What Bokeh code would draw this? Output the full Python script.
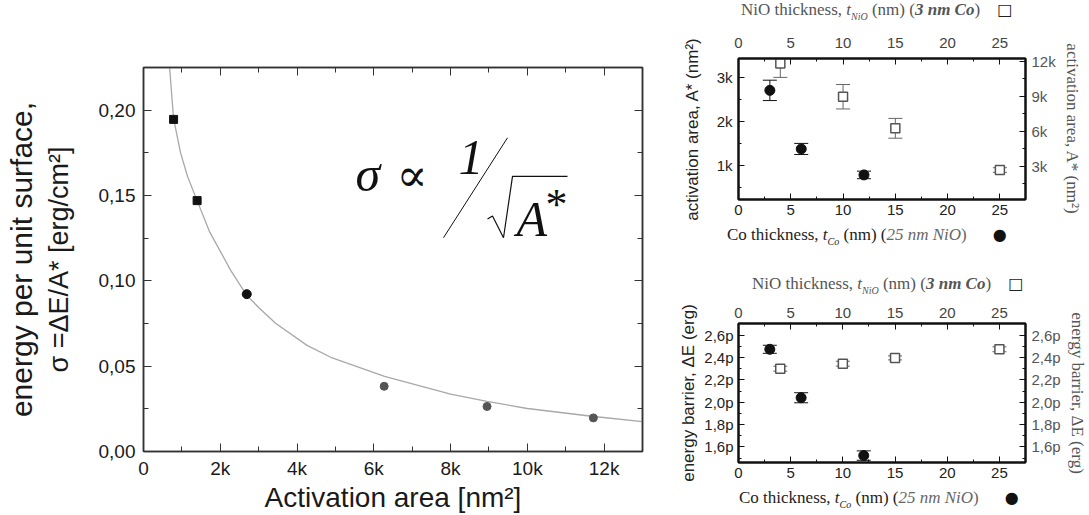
import math
from bokeh.plotting import figure
from bokeh.layouts import row, column
from bokeh.models import (Label, LinearAxis, Range1d, FixedTicker, Div, Spacer,
                          CustomJSTickFormatter, Whisker, TeeHead, ColumnDataSource)
from bokeh.embed import file_html
from bokeh.resources import INLINE

SANS = "Liberation Sans"
SERIF = "Liberation Serif"

# ---------------- data : left panel ----------------
area_square = [784, 1397]
sigma_square = [0.1946, 0.147]
area_black = [2690]
sigma_black = [0.0922]
area_grey = [6270, 8950, 11720]
sigma_grey = [0.0382, 0.0264, 0.0197]
fit_area = [680, 784, 966, 1150, 1397, 1716, 2276, 2690, 3000, 3440, 4260,
            4880, 6280, 8000, 8950, 10000, 11730, 13000]
fit_sigma = [0.225, 0.195, 0.175, 0.161, 0.147, 0.129, 0.106, 0.0915, 0.0844,
             0.0751, 0.0622, 0.0552, 0.0440, 0.0336, 0.0294, 0.0252, 0.0205, 0.0175]
left_x_ticks = [0, 2000, 4000, 6000, 8000, 10000, 12000]
left_x_labels = ["0", "2k", "4k", "6k", "8k", "10k", "12k"]
left_x_minor = [1000, 3000, 5000, 7000, 9000, 11000]
left_y_ticks = [0.0, 0.05, 0.10, 0.15, 0.20]
left_y_labels = ["0,00", "0,05", "0,10", "0,15", "0,20"]
left_y_minor = [0.025, 0.075, 0.125, 0.175]

# ---------------- data : right panels ----------------
co_thickness = [3, 6, 12]
nio_thickness = [4, 10, 15, 25]
co_area = [2700, 1377, 790]
co_area_err = [230, 125, 85]
nio_area = [11830, 8970, 6260, 2680]
nio_area_err = [1200, 1050, 850, 200]
co_energy = [2.474, 2.040, 1.522]          # pico-erg
co_energy_err = [0.036, 0.045, 0.042]
nio_energy = [2.300, 2.345, 2.397, 2.474]  # pico-erg
nio_energy_err = [0.022, 0.022, 0.018, 0.022]

thick_ticks = [0, 5, 10, 15, 20, 25]
thick_labels = ["0", "5", "10", "15", "20", "25"]
thick_minor = [2.5, 7.5, 12.5, 17.5, 22.5]
area_left_ticks = [1000, 2000, 3000]
area_left_labels = ["1k", "2k", "3k"]
area_left_minor = [500, 1500, 2500]
area_right_ticks = [3000, 6000, 9000, 12000]
area_right_labels = ["3k", "6k", "9k", "12k"]
area_right_minor = [1500, 4500, 7500, 10500]
energy_ticks = [1.6, 1.8, 2.0, 2.2, 2.4, 2.6]
energy_labels = ["1,6p", "1,8p", "2,0p", "2,2p", "2,4p", "2,6p"]
energy_minor = [1.5, 1.7, 1.9, 2.1, 2.3, 2.5]

# ---------------- geometry (page pixels) ----------------
L_CANVAS, L_SIZE, L_FRAME = (0, 0), (676, 515), (143, 642, 67, 455)
RIGHT_W = 413
TR_CANVAS, TR_SIZE, TR_FRAME = (676, 20), (RIGHT_W, 204), (736, 1034, 58, 199)
BR_CANVAS, BR_SIZE, BR_FRAME = (676, 295), (RIGHT_W, 192), (736, 1030, 323, 462)
L_X, L_Y = (0, 13000), (0, 0.225)
TR_X, TR_Y, TR_Y2 = (0, 27.45), (235, 3420), (150, 12250)
BR_X, BR_Y = (0, 27.5), (1.46, 2.705)


def make_fig(canvas, size, frame, xr, yr, line_color, line_width):
    cx, cy = canvas
    w, h = size
    fl, fr, ft, fb = frame
    p = figure(width=w, height=h, x_range=Range1d(*xr), y_range=Range1d(*yr),
               output_backend="svg", toolbar_location=None,
               min_border_left=fl - cx, min_border_right=cx + w - fr,
               min_border_top=ft - cy, min_border_bottom=cy + h - fb)
    p.xgrid.visible = False
    p.ygrid.visible = False
    p.outline_line_color = line_color
    p.outline_line_width = line_width
    p.background_fill_color = "white"
    p.border_fill_color = "white"
    return p


def style_axis(ax, ticks, minor, labels, size, color, line_color, line_width,
               tin=7, tmin=4, standoff=6):
    ax.ticker = FixedTicker(ticks=ticks, minor_ticks=minor)
    if labels is None:
        ax.formatter = CustomJSTickFormatter(code="return ''")
    else:
        ax.major_label_overrides = dict(zip(ticks, labels))
    ax.major_label_text_font = SANS
    ax.major_label_text_font_size = f"{size}px"
    ax.major_label_text_color = color
    ax.major_label_standoff = standoff
    ax.axis_line_color = line_color
    ax.axis_line_width = line_width
    ax.major_tick_line_color = line_color
    ax.minor_tick_line_color = line_color
    ax.major_tick_line_width = 1
    ax.minor_tick_line_width = 1
    ax.major_tick_in = tin
    ax.major_tick_out = 0
    ax.minor_tick_in = tmin
    ax.minor_tick_out = 0


def axis_title(ax, text, size, font, color, standoff):
    ax.axis_label = text
    ax.axis_label_text_font = font
    ax.axis_label_text_font_size = f"{size}px"
    ax.axis_label_text_font_style = "normal"
    ax.axis_label_text_color = color
    ax.axis_label_standoff = standoff


def to_data(frame, xr, yr, rx, ry):
    fl, fr, ft, fb = frame
    x = xr[0] + (rx - fl) / (fr - fl) * (xr[1] - xr[0])
    y = yr[0] + (fb - ry) / (fb - ft) * (yr[1] - yr[0])
    return x, y


def put(p, frame, xr, yr, rx, ry, text, size, font=SERIF, style="normal",
        color="#111111"):
    # (rx, ry) is the left end of the text baseline in page pixels
    x, y = to_data(frame, xr, yr, rx, ry - 0.3375 * size)
    p.add_layout(Label(x=x, y=y, text=text, text_font=font,
                       text_font_size=f"{size}px", text_font_style=style,
                       text_color=color, text_align="left",
                       text_baseline="middle"))


def ref_line(p, frame, xr, yr, pts, **kw):
    xs, ys = [], []
    for rx, ry in pts:
        x, y = to_data(frame, xr, yr, rx, ry)
        xs.append(x)
        ys.append(y)
    p.line(xs, ys, **kw)


# ================= left panel =================
LC = "#333333"
pl = make_fig(L_CANVAS, L_SIZE, L_FRAME, L_X, L_Y, LC, 1.5)
style_axis(pl.xaxis[0], left_x_ticks, left_x_minor, left_x_labels, 19, "#1a1a1a", LC, 1.5, 8, 5, 6)
style_axis(pl.yaxis[0], left_y_ticks, left_y_minor, left_y_labels, 19, "#1a1a1a", LC, 1.5, 8, 5, 8)
axis_title(pl.xaxis[0], "Activation area [nm²]", 28, SANS, "#1a1a1a", 0)
axis_title(pl.yaxis[0], "σ =ΔE/A* [erg/cm²]", 27, SANS, "#1a1a1a", 22)
ax_outer = LinearAxis(ticker=FixedTicker(ticks=[]),
                      formatter=CustomJSTickFormatter(code="return ''"))
ax_outer.axis_line_color = None
ax_outer.major_tick_in = 0
ax_outer.major_tick_out = 0
ax_outer.minor_tick_in = 0
ax_outer.minor_tick_out = 0
ax_outer.major_label_standoff = 0
axis_title(ax_outer, "energy per unit surface,", 30, SANS, "#1a1a1a", 3)
pl.add_layout(ax_outer, "left")
ax_top = LinearAxis()
style_axis(ax_top, left_x_ticks, left_x_minor, None, 1, "#1a1a1a", LC, 1.5, 8, 5, 0)
pl.add_layout(ax_top, "above")
ax_right = LinearAxis()
style_axis(ax_right, left_y_ticks, left_y_minor, None, 1, "#1a1a1a", LC, 1.5, 8, 5, 0)
pl.add_layout(ax_right, "right")

pl.line(fit_area, fit_sigma, line_color="#a8a8a8", line_width=1.3)
pl.scatter(area_square, sigma_square, marker="square", size=8,
           fill_color="#111111", line_color="#111111")
pl.scatter(area_black, sigma_black, marker="circle", size=9,
           fill_color="#111111", line_color="#111111")
pl.scatter(area_grey, sigma_grey, marker="circle", size=8,
           fill_color="#555555", line_color="#555555")

# formula  sigma ~ 1/sqrt(A*)
LF = (L_FRAME, L_X, L_Y)
put(pl, *LF, 355, 191, "σ", 50, style="italic")
put(pl, *LF, 396, 191, "∝", 46, font="DejaVu Serif")
put(pl, *LF, 458, 175, "1", 50, style="italic")
put(pl, *LF, 516, 237, "A", 50, style="italic")
put(pl, *LF, 545, 220, "*", 44)
ref_line(pl, *LF, [(443, 239), (507, 138)], line_color="#111111", line_width=1)
ref_line(pl, *LF, [(487, 220), (492, 217), (503, 239), (512, 177), (567, 177)],
         line_color="#111111", line_width=1.2)

# ================= top-right panel =================
RC = "#111111"
ptr = make_fig(TR_CANVAS, TR_SIZE, TR_FRAME, TR_X, TR_Y, RC, 2)
ptr.extra_y_ranges = {"right": Range1d(*TR_Y2)}
style_axis(ptr.xaxis[0], thick_ticks, thick_minor, thick_labels, 15, "#222222", RC, 2, 6, 3, 5)
style_axis(ptr.yaxis[0], area_left_ticks, area_left_minor, area_left_labels, 15, "#222222", RC, 2, 6, 3, 6)
axis_title(ptr.yaxis[0], "activation area, A* (nm²)", 17, SANS, "#222222", 12)
tr_top = LinearAxis()
style_axis(tr_top, thick_ticks, thick_minor, thick_labels, 15, "#444444", RC, 2, 6, 3, 11)
ptr.add_layout(tr_top, "above")
tr_right = LinearAxis(y_range_name="right")
style_axis(tr_right, area_right_ticks, area_right_minor, area_right_labels, 15, "#555555", RC, 2, 6, 3, 6)
axis_title(tr_right, "activation area, A* (nm²)", 17, SERIF, "#555555", 4)
ptr.add_layout(tr_right, "right")

src_co_a = ColumnDataSource(dict(x=co_thickness, y=co_area,
                                 lo=[v - e for v, e in zip(co_area, co_area_err)],
                                 hi=[v + e for v, e in zip(co_area, co_area_err)]))
src_nio_a = ColumnDataSource(dict(x=nio_thickness, y=nio_area,
                                  lo=[v - e for v, e in zip(nio_area, nio_area_err)],
                                  hi=[v + e for v, e in zip(nio_area, nio_area_err)]))


def whisker(p, src, color, **kw):
    p.add_layout(Whisker(source=src, base="x", lower="lo", upper="hi",
                         line_color=color, line_width=1,
                         lower_head=TeeHead(size=14, line_color=color, line_width=1),
                         upper_head=TeeHead(size=14, line_color=color, line_width=1),
                         **kw))


whisker(ptr, src_co_a, "#111111")
whisker(ptr, src_nio_a, "#666666", y_range_name="right")
ptr.scatter("x", "y", source=src_nio_a, marker="square", size=9, y_range_name="right",
            fill_color="white", line_color="#555555", line_width=1.5)
ptr.scatter("x", "y", source=src_co_a, marker="circle", size=10,
            fill_color="#111111", line_color="#111111")

# ================= bottom-right panel =================
pbr = make_fig(BR_CANVAS, BR_SIZE, BR_FRAME, BR_X, BR_Y, RC, 2)
style_axis(pbr.xaxis[0], thick_ticks, thick_minor, thick_labels, 15, "#222222", RC, 2, 6, 3, 5)
style_axis(pbr.yaxis[0], energy_ticks, energy_minor, energy_labels, 15, "#222222", RC, 2, 6, 3, 5)
axis_title(pbr.yaxis[0], "energy barrier, ΔE (erg)", 17, SANS, "#222222", 3)
br_top = LinearAxis()
style_axis(br_top, thick_ticks, thick_minor, thick_labels, 15, "#444444", RC, 2, 6, 3, 6)
pbr.add_layout(br_top, "above")
br_right = LinearAxis()
style_axis(br_right, energy_ticks, energy_minor, energy_labels, 15, "#555555", RC, 2, 6, 3, 6)
axis_title(br_right, "energy barrier, ΔE (erg)", 17, SERIF, "#555555", 4)
pbr.add_layout(br_right, "right")

src_co_e = ColumnDataSource(dict(x=co_thickness, y=co_energy,
                                 lo=[v - e for v, e in zip(co_energy, co_energy_err)],
                                 hi=[v + e for v, e in zip(co_energy, co_energy_err)]))
src_nio_e = ColumnDataSource(dict(x=nio_thickness, y=nio_energy,
                                  lo=[v - e for v, e in zip(nio_energy, nio_energy_err)],
                                  hi=[v + e for v, e in zip(nio_energy, nio_energy_err)]))
whisker(pbr, src_co_e, "#111111")
whisker(pbr, src_nio_e, "#666666")
pbr.scatter("x", "y", source=src_nio_e, marker="square", size=9,
            fill_color="white", line_color="#555555", line_width=1.5)
pbr.scatter("x", "y", source=src_co_e, marker="circle", size=10,
            fill_color="#111111", line_color="#111111")


# ================= rich axis titles (top / bottom of right panels) =================
def title_div(pad, height, main_color, parts, symbol, sym_color, sym_gap):
    html = (f"<div style=\"font-family:'{SERIF}';font-size:17px;color:{main_color};"
            f"white-space:nowrap;line-height:{height}px;height:{height}px;"
            f"padding-left:{pad}px;margin:0\">{parts}"
            f"<span style=\"font-family:'DejaVu Sans';font-size:16px;color:{sym_color};"
            f"margin-left:{sym_gap}px;font-style:normal\">{symbol}</span></div>")
    return Div(text=html, width=RIGHT_W, height=height, margin=(0, 0, 0, 0))


SUB = "<span style=\"font-size:10px;font-style:italic;position:relative;top:5px\">{}</span>"
nio_parts = ("NiO thickness, <i>t</i>" + SUB.format("NiO") +
             " (nm) (<b><i>3 nm Co</i></b>)")
co_parts = ("Co thickness, <i>t</i>" + SUB.format("Co") +
            " (nm) (<span style=\"color:#666666\"><i>25 nm NiO</i>)</span>")

div_tr_top = title_div(65, 20, "#555555", nio_parts, "□", "#222222", 17)
div_tr_bot = title_div(51, 22, "#222222", co_parts, "●", "#111111", 26)
div_br_top = title_div(76, 22, "#555555", nio_parts, "□", "#222222", 17)
div_br_bot = title_div(63, 22, "#222222", co_parts, "●", "#111111", 26)
gap = Spacer(width=RIGHT_W, height=27, margin=(0, 0, 0, 0))

right_col = column(div_tr_top, ptr, div_tr_bot, gap, div_br_top, pbr, div_br_bot,
                   spacing=0)
layout = row(pl, right_col, spacing=0)
open("out.html", "w").write(file_html(layout, INLINE))
